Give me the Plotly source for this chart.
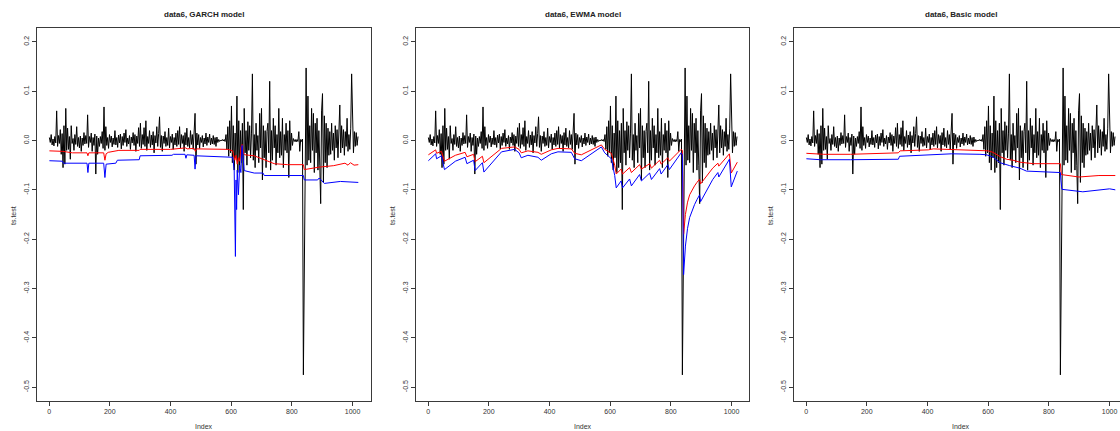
import plotly.graph_objects as go

# ---------------------------------------------------------------------------
# Test-period returns (ts.test), sampled every third observation
# ---------------------------------------------------------------------------
ret_index = list(range(1, 1019, 3))
ret_values = [
    0.006, -0.004, 0.012, -0.009, 0.003, -0.011, 0.008, -0.005, 0.060, -0.012,
    0.010, -0.006, 0.022, -0.028, 0.014, -0.055, 0.030, -0.048, 0.065, -0.020,
    0.025, -0.018, 0.008, -0.038, 0.030, -0.006, 0.004, -0.020, 0.012, -0.008,
    0.028, -0.012, 0.006, -0.015, 0.009, -0.022, 0.005, -0.010, 0.016, -0.007,
    0.010, -0.006, 0.052, -0.014, 0.008, -0.004, 0.015, -0.022, 0.006, -0.010,
    0.013, -0.068, 0.009, -0.028, 0.005, -0.012, 0.008, -0.006, 0.018, -0.016,
    0.068, -0.020, 0.028, -0.010, 0.006, -0.016, 0.012, -0.004, 0.009, -0.013,
    0.005, -0.008, 0.020, -0.009, 0.006, -0.014, 0.011, -0.005, 0.013, -0.017,
    0.008, -0.010, 0.015, -0.004, 0.022, -0.012, 0.005, -0.007, 0.010, -0.018,
    0.007, -0.005, 0.016, -0.010, 0.012, -0.022, 0.009, -0.006, 0.026, -0.012,
    0.035, -0.016, 0.012, -0.008, 0.026, -0.012, 0.040, -0.020, 0.008, -0.006,
    0.020, -0.014, 0.011, -0.009, 0.018, -0.025, 0.010, -0.005, 0.028, -0.012,
    0.014, 0.048, -0.014, 0.010, -0.022, 0.009, -0.006, 0.018, -0.012, 0.006,
    -0.010, 0.025, -0.015, 0.008, -0.004, 0.013, -0.018, 0.006, -0.009, 0.015,
    -0.012, 0.020, -0.008, 0.028, -0.015, 0.012, -0.006, 0.010, -0.022, 0.016,
    -0.009, 0.025, -0.012, 0.006, -0.015, 0.020, -0.008, 0.012, -0.018, 0.026,
    0.055, -0.048, 0.015, -0.009, 0.012, -0.016, 0.006, -0.004, 0.010, -0.013,
    0.005, -0.007, 0.015, -0.010, 0.007, -0.004, 0.013, -0.009, 0.005, -0.007,
    0.010, -0.008, 0.006, -0.012, 0.007, -0.004, 0.002, -0.002, 0.001, -0.001,
    0.002, -0.001, 0.002, -0.002, 0.012, -0.018, 0.028, -0.032, 0.040, -0.025,
    0.070, -0.045, 0.030, -0.060, 0.015, -0.035, 0.090, -0.065, 0.040, -0.055,
    0.020, -0.045, 0.035, -0.140, 0.065, -0.025, 0.020, -0.050, 0.038, -0.020,
    0.030, -0.035, 0.015, 0.135, -0.040, 0.012, -0.055, 0.035, -0.020, 0.010,
    -0.045, 0.055, -0.015, 0.065, -0.080, 0.030, -0.035, 0.020, -0.055, 0.018,
    0.035, -0.025, 0.120, -0.060, 0.020, -0.040, 0.045, -0.015, 0.030, -0.050,
    0.012, -0.025, 0.065, -0.035, 0.018, -0.030, 0.045, -0.055, 0.012, -0.020,
    0.035, -0.025, 0.020, -0.075, 0.040, -0.020, 0.015, -0.010, 0.004, -0.002,
    0.002, -0.003, 0.002, -0.002, 0.018, -0.022, 0.002, -0.002, 0.003, -0.475,
    -0.275, 0.010, 0.147, -0.050, 0.090, -0.040, 0.030, -0.045, 0.065, -0.020,
    0.055, -0.065, 0.035, -0.025, 0.045, -0.060, 0.020, -0.050, -0.128, 0.060,
    0.095, -0.085, 0.050, -0.045, 0.035, -0.055, 0.025, -0.030, 0.018, -0.028,
    0.035, -0.020, 0.015, -0.040, 0.030, -0.015, 0.022, -0.035, 0.012, 0.072,
    -0.025, 0.030, -0.015, 0.022, -0.030, 0.018, -0.012, 0.045, -0.022, 0.012,
    -0.018, 0.025, 0.135, 0.065, -0.025, 0.018, -0.012, 0.016, -0.010, 0.008,
]

# ---------------------------------------------------------------------------
# VaR estimates (red = 95%, blue = 99%) at their turning points
# ---------------------------------------------------------------------------
garch_red_idx = [1, 45, 77, 125, 128, 131, 180, 184, 188, 195, 230, 297, 300, 400,
                 450, 455, 478, 482, 486, 590, 605, 612, 616, 620, 624, 628, 632,
                 636, 640, 645, 676, 709, 742, 786, 838, 841, 890, 938, 975, 985,
                 993, 1005, 1019]
garch_red_val = [-0.021, -0.022, -0.025, -0.025, -0.031, -0.025, -0.025, -0.040,
                 -0.027, -0.024, -0.020, -0.020, -0.018, -0.018, -0.015, -0.017,
                 -0.016, -0.022, -0.017, -0.018, -0.021, -0.040, -0.030, -0.048,
                 -0.035, -0.042, -0.015, -0.008, -0.025, -0.029, -0.031, -0.039,
                 -0.047, -0.049, -0.049, -0.059, -0.054, -0.051, -0.046, -0.050,
                 -0.045, -0.050, -0.049]

garch_blue_idx = [1, 44, 47, 125, 128, 131, 180, 184, 188, 220, 225, 297, 300, 405,
                  410, 448, 451, 454, 478, 481, 484, 590, 605, 610, 614, 616, 618,
                  620, 624, 628, 632, 636, 638, 640, 643, 676, 705, 709, 838, 841,
                  885, 890, 900, 907, 960, 1000, 1019]
garch_blue_val = [-0.041, -0.042, -0.046, -0.046, -0.065, -0.046, -0.046, -0.075,
                  -0.048, -0.046, -0.040, -0.039, -0.031, -0.030, -0.028, -0.028,
                  -0.036, -0.029, -0.030, -0.058, -0.031, -0.033, -0.034, -0.060,
                  -0.235, -0.080, -0.140, -0.060, -0.110, -0.050, -0.065, -0.010,
                  -0.030, -0.050, -0.061, -0.066, -0.066, -0.071, -0.071, -0.080,
                  -0.080, -0.076, -0.083, -0.087, -0.083, -0.084, -0.085]

ewma_idx = [1, 25, 28, 44, 54, 90, 122, 128, 150, 155, 179, 184, 242, 285, 300,
            307, 329, 362, 373, 406, 428, 472, 483, 505, 571, 582, 604, 615, 620,
            636, 641, 664, 670, 697, 703, 730, 736, 763, 768, 790, 795, 834, 838,
            842, 848, 855, 862, 870, 878, 886, 895, 898, 905, 938, 955, 958, 993,
            999, 1019]
ewma_red_val = [-0.029, -0.019, -0.026, -0.022, -0.042, -0.030, -0.024, -0.033,
                -0.028, -0.043, -0.032, -0.045, -0.016, -0.013, -0.018, -0.025,
                -0.021, -0.024, -0.028, -0.019, -0.016, -0.017, -0.026, -0.029,
                -0.009, -0.018, -0.026, -0.050, -0.068, -0.058, -0.068, -0.055,
                -0.065, -0.049, -0.058, -0.047, -0.056, -0.040, -0.048, -0.035,
                -0.042, -0.018, -0.020, -0.190, -0.150, -0.125, -0.110, -0.100,
                -0.092, -0.085, -0.078, -0.088, -0.082, -0.056, -0.046, -0.052,
                -0.027, -0.066, -0.044]
ewma_blue_val = [-0.041, -0.027, -0.037, -0.031, -0.059, -0.042, -0.034, -0.047,
                 -0.040, -0.061, -0.045, -0.064, -0.023, -0.018, -0.025, -0.035,
                 -0.030, -0.034, -0.040, -0.027, -0.023, -0.024, -0.037, -0.041,
                 -0.013, -0.025, -0.037, -0.071, -0.096, -0.082, -0.096, -0.078,
                 -0.092, -0.069, -0.082, -0.066, -0.079, -0.057, -0.068, -0.049,
                 -0.059, -0.025, -0.028, -0.272, -0.214, -0.178, -0.156, -0.141,
                 -0.130, -0.120, -0.110, -0.124, -0.116, -0.079, -0.065, -0.074,
                 -0.038, -0.094, -0.062]

basic_red_idx = [1, 58, 146, 222, 304, 310, 403, 419, 474, 573, 600, 616, 640, 661,
                 682, 705, 749, 838, 841, 899, 965, 1019]
basic_red_val = [-0.026, -0.028, -0.028, -0.026, -0.025, -0.021, -0.019, -0.017,
                 -0.018, -0.019, -0.021, -0.024, -0.033, -0.038, -0.040, -0.044,
                 -0.047, -0.047, -0.069, -0.074, -0.071, -0.071]

basic_blue_idx = [1, 47, 146, 222, 304, 308, 408, 480, 573, 595, 617, 639, 671, 704,
                  726, 803, 838, 840, 843, 912, 960, 1000, 1019]
basic_blue_val = [-0.037, -0.039, -0.039, -0.038, -0.038, -0.032, -0.029, -0.027,
                  -0.028, -0.029, -0.034, -0.045, -0.051, -0.056, -0.062, -0.064,
                  -0.065, -0.082, -0.099, -0.104, -0.101, -0.098, -0.100]

panel_titles = ["data6, GARCH model", "data6, EWMA model", "data6, Basic model"]
x_ticks = [0, 200, 400, 600, 800, 1000]
y_ticks = [-0.5, -0.4, -0.3, -0.2, -0.1, 0.0, 0.1, 0.2]
y_tick_text = ["-0.5", "-0.4", "-0.3", "-0.2", "-0.1", "0.0", "0.1", "0.2"]

# ---------------------------------------------------------------------------
W, H = 1120, 431
panel_px = [(37, 371), (416, 749), (794, 1128)]
top_px, bottom_px = 28, 401
x_lo, x_hi = -39.8, 1060.8
px_per_unit = (panel_px[0][1] - panel_px[0][0]) / (x_hi - x_lo)

fig = go.Figure()
frame = "#3a3a3a"
font_family = "Liberation Sans, Arial, sans-serif"
tick_font = dict(family=font_family, size=7, color="#333")

panels = [
    (garch_red_idx, garch_red_val, garch_blue_idx, garch_blue_val),
    (ewma_idx, ewma_red_val, ewma_idx, ewma_blue_val),
    (basic_red_idx, basic_red_val, basic_blue_idx, basic_blue_val),
]

for k, (r_idx, r_val, b_idx, b_val) in enumerate(panels):
    xa = "x" if k == 0 else f"x{k + 1}"
    ya = "y" if k == 0 else f"y{k + 1}"
    fig.add_trace(go.Scatter(x=ret_index, y=ret_values, mode="lines",
                             line=dict(color="black", width=1),
                             xaxis=xa, yaxis=ya, showlegend=False, hoverinfo="skip"))
    fig.add_trace(go.Scatter(x=r_idx, y=r_val, mode="lines",
                             line=dict(color="#ff0000", width=1),
                             xaxis=xa, yaxis=ya, showlegend=False, hoverinfo="skip"))
    fig.add_trace(go.Scatter(x=b_idx, y=b_val, mode="lines",
                             line=dict(color="#0000ff", width=1),
                             xaxis=xa, yaxis=ya, showlegend=False, hoverinfo="skip"))

    left, right = panel_px[k]
    right_vis = min(right, W)
    x_end = x_lo + (right_vis - left) / px_per_unit
    dom_x = [left / W, right_vis / W]
    dom_y = [1 - bottom_px / H, 1 - top_px / H]
    xkey = "xaxis" if k == 0 else f"xaxis{k + 1}"
    ykey = "yaxis" if k == 0 else f"yaxis{k + 1}"
    fig.layout[xkey] = dict(
        domain=dom_x, range=[x_lo, x_end], anchor=ya,
        tickmode="array", tickvals=x_ticks, ticks="outside", ticklen=4,
        tickcolor=frame, tickfont=tick_font, showline=True, linecolor=frame,
        linewidth=1, mirror=True, showgrid=False, zeroline=False,
    )
    fig.layout[ykey] = dict(
        domain=dom_y, range=[-0.528, 0.228], anchor=xa,
        tickmode="array", tickvals=y_ticks, ticktext=y_tick_text, tickangle=-90,
        ticks="outside", ticklen=4, tickcolor=frame, tickfont=tick_font,
        showline=True, linecolor=frame, linewidth=1, mirror=(right <= W),
        showgrid=False, zeroline=False,
    )

    cx = (left + right) / 2 / W
    fig.add_annotation(text="<b>" + panel_titles[k] + "</b>", x=cx, y=1 - 14.5 / H,
                       xref="paper", yref="paper", showarrow=False,
                       xanchor="center", yanchor="middle",
                       font=dict(family=font_family, size=8, color="#222"))
    fig.add_annotation(text="Index", x=cx, y=1 - 426 / H, xref="paper", yref="paper",
                       showarrow=False, xanchor="center", yanchor="middle",
                       font=dict(family=font_family, size=7, color="#333"))
    fig.add_annotation(text="ts.test", x=(left - 24) / W, y=1 - 216 / H,
                       xref="paper", yref="paper", showarrow=False, textangle=-90,
                       xanchor="center", yanchor="middle",
                       font=dict(family=font_family, size=7, color="#333"))

fig.update_layout(width=W, height=H, margin=dict(l=0, r=0, t=0, b=0),
                  paper_bgcolor="white", plot_bgcolor="white")

fig.write_html("out.html")
